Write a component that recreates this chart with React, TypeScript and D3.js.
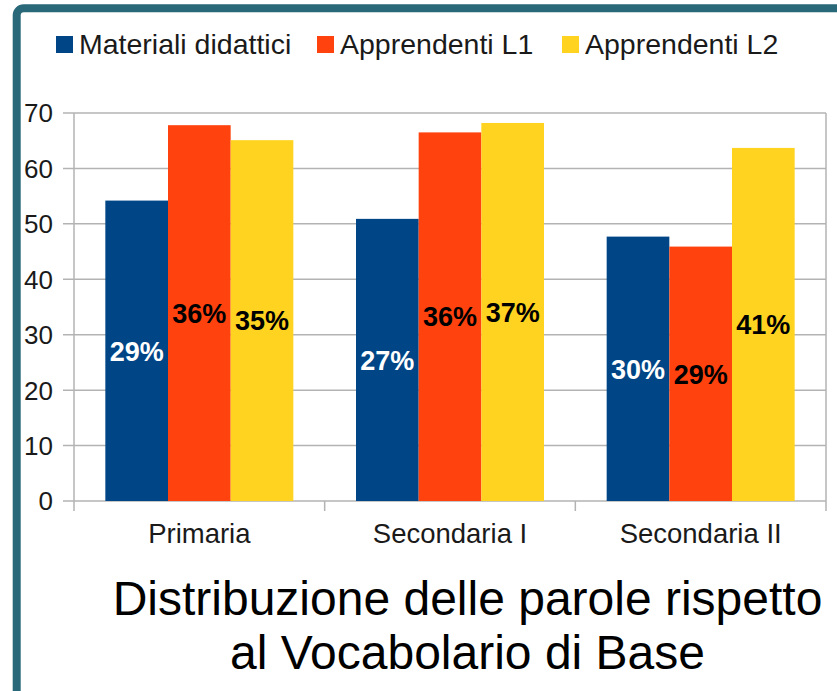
import * as d3 from 'd3';
import React from 'react';

const categories = ['Primaria', 'Secondaria I', 'Secondaria II'];
const seriesNames = ['Materiali didattici', 'Apprendenti L1', 'Apprendenti L2'];
const materiali = [54.2, 50.9, 47.7];
const apprendentiL1 = [67.8, 66.5, 45.9];
const apprendentiL2 = [65.1, 68.2, 63.7];
const labelsMateriali = ['29%', '27%', '30%'];
const labelsL1 = ['36%', '36%', '29%'];
const labelsL2 = ['35%', '37%', '41%'];
const yTicks = [0, 10, 20, 30, 40, 50, 60, 70];
const titleLines = ['Distribuzione delle parole rispetto', 'al Vocabolario di Base'];

const colors = ['#004586', '#ff420e', '#ffd320'];
const labelColors = ['#ffffff', '#000000', '#000000'];
const font = '"Liberation Sans", Arial, sans-serif';

const App = () => {
  const width = 837, height = 691;
  const left = 74, right = 826, top = 113, bottom = 501;

  const values = [materiali, apprendentiL1, apprendentiL2];
  const labels = [labelsMateriali, labelsL1, labelsL2];

  const x = d3.scaleBand().domain(categories).range([left, right]);
  const xs = d3.scaleBand().domain(seriesNames).range([0, x.bandwidth()]).paddingOuter(0.5);
  const y = d3.scaleLinear().domain([0, 70]).range([bottom, top]);

  // legend x positions
  const legendX = [56, 317, 562];

  return (
    <svg width={width} height={height} style={{ position: 'absolute', left: 0, top: 0 }}>
      <rect x={0} y={0} width={width} height={height} fill="#fff" />
      {/* frame */}
      <rect x={16.7} y={8.3} width={1000} height={900} rx={7} fill="none" stroke="#296878" strokeWidth={8} />

      {/* gridlines */}
      {yTicks.map(t => (
        <line key={'g' + t} x1={left - 11} x2={right} y1={y(t)} y2={y(t)} stroke="#b3b3b3" strokeWidth={1.5} />
      ))}
      {/* y axis & right wall */}
      <line x1={left} x2={left} y1={top} y2={bottom + 10} stroke="#b3b3b3" strokeWidth={1.5} />
      <line x1={right} x2={right} y1={top} y2={bottom + 10} stroke="#b3b3b3" strokeWidth={1.5} />
      {categories.slice(1).map(c => (
        <line key={'t' + c} x1={x(c)} x2={x(c)} y1={bottom} y2={bottom + 10} stroke="#b3b3b3" strokeWidth={1.5} />
      ))}
      {yTicks.map(t => (
        <text key={'l' + t} x={left - 21} y={y(t)} dy="0.36em" textAnchor="end"
          fontFamily={font} fontSize={26} fill="#1a1a1a">{t}</text>
      ))}

      {/* bars */}
      {values.map((vals, s) =>
        categories.map((c, i) => (
          <rect key={s + '-' + i} x={(x(c) as number) + (xs(seriesNames[s]) as number)} y={y(vals[i])}
            width={xs.bandwidth()} height={y(0) - y(vals[i])} fill={colors[s]} />
        ))
      )}
      {/* value labels */}
      {values.map((vals, s) =>
        categories.map((c, i) => (
          <text key={'v' + s + '-' + i}
            x={(x(c) as number) + (xs(seriesNames[s]) as number) + xs.bandwidth() / 2}
            y={(y(vals[i]) + y(0)) / 2} dy="0.36em" textAnchor="middle"
            fontFamily={font} fontWeight="bold" fontSize={27} fill={labelColors[s]}>{labels[s][i]}</text>
        ))
      )}

      {/* category labels */}
      {categories.map(c => (
        <text key={'c' + c} x={(x(c) as number) + x.bandwidth() / 2} y={543} textAnchor="middle"
          fontFamily={font} fontSize={27.5} fill="#1a1a1a">{c}</text>
      ))}

      {/* legend */}
      {seriesNames.map((n, s) => (
        <g key={'lg' + n} transform={`translate(${legendX[s]},0)`}>
          <rect x={0} y={36} width={17} height={17} fill={colors[s]} />
          <text x={23} y={54} fontFamily={font} fontSize={28.5} fill="#1a1a1a">{n}</text>
        </g>
      ))}

      {/* title */}
      {titleLines.map((t, i) => (
        <text key={'ti' + i} x={467.5} y={615 + i * 54} textAnchor="middle"
          fontFamily={font} fontSize={48} fill="#000">{t}</text>
      ))}
    </svg>
  );
};

export default App;
